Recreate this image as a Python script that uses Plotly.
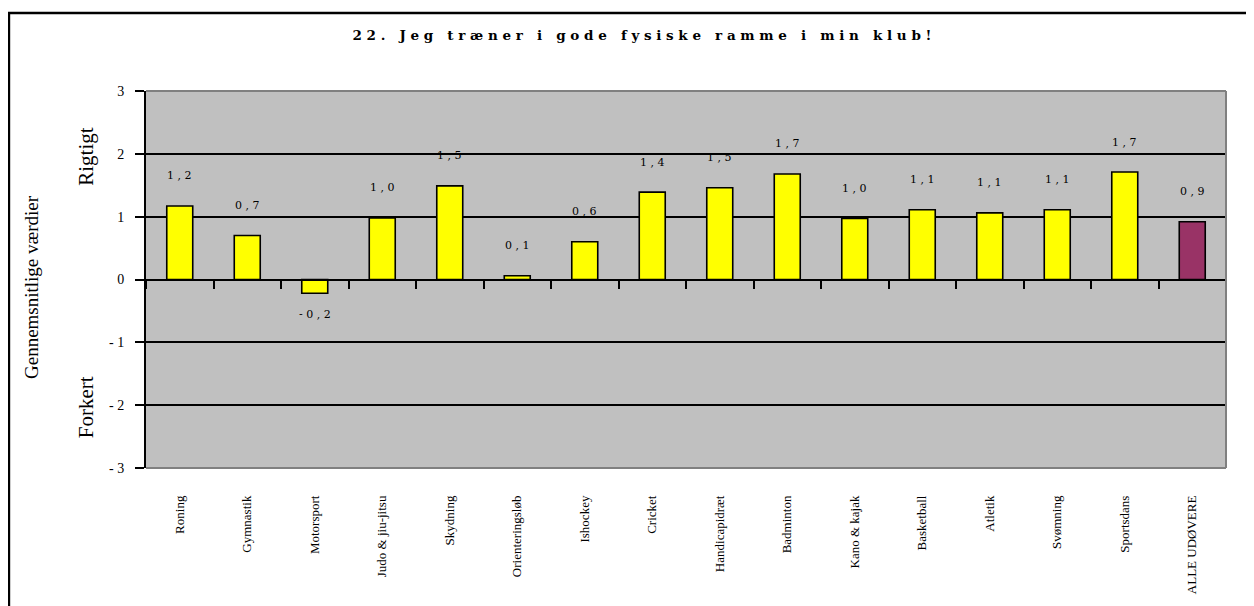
import plotly.graph_objects as go

# data
categories = ["Roning", "Gymnastik", "Motorsport", "Judo & jiu-jitsu", "Skydning",
              "Orienteringsløb", "Ishockey", "Cricket", "Handicapidræt", "Badminton",
              "Kano & kajak", "Basketball", "Atletik", "Svømning", "Sportsdans",
              "ALLE UDØVERE"]
values = [1.17, 0.70, -0.22, 0.98, 1.49, 0.06, 0.60, 1.39, 1.46, 1.68,
          0.97, 1.11, 1.06, 1.11, 1.71, 0.92]
y_ticks = [-3, -2, -1, 0, 1, 2, 3]
y_tick_labels = ["- 3", "- 2", "- 1", "0", "1", "2", "3"]
title = "22. Jeg træner i gode fysiske ramme i min klub!"

YELLOW = "#FFFF00"
PLUM = "#993366"
SERIF = "Liberation Serif, Times New Roman, serif"


def spaced(s):
    # the original renders text with wide letter spacing
    words = s.split(" ")
    return "\u00a0\u00a0\u00a0".join(" ".join(w) for w in words)


def label(v):
    return " ".join(f"{v:.1f}".replace(".", ","))


colors = [YELLOW] * (len(categories) - 1) + [PLUM]
x_range = [-0.5, len(categories) - 0.5]

fig = go.Figure()
fig.add_trace(go.Bar(
    x=categories, y=values,
    marker=dict(color=colors, line=dict(color="black", width=1.6)),
    hoverinfo="skip", showlegend=False,
))
# invisible trace on a second x axis so the category axis line/ticks sit at y=0
fig.add_trace(go.Scatter(
    x=categories, y=values, xaxis="x2", mode="markers",
    marker=dict(opacity=0), hoverinfo="skip", showlegend=False,
))

for c, v in zip(categories, values):
    fig.add_annotation(
        x=c, y=v, xref="x", yref="y", text=label(v), showarrow=False,
        yshift=30 if v >= 0 else -21,
        font=dict(family="DejaVu Serif, serif", size=11, color="black"),
    )

# axis side texts
side = dict(xref="paper", yref="paper", showarrow=False, textangle=-90,
            xanchor="center", yanchor="middle")
fig.add_annotation(x=-0.1065, y=0.48, text="Gennemsnitlige værdier",
                   font=dict(family=SERIF, size=19, color="black"), **side)
fig.add_annotation(x=-0.0556, y=0.828, text="Rigtigt",
                   font=dict(family=SERIF, size=21, color="black"), **side)
fig.add_annotation(x=-0.0556, y=0.161, text="Forkert",
                   font=dict(family=SERIF, size=21, color="black"), **side)

# plot-area edges (gray) and outer chart frame (black)
for x0, y0, x1, y1 in [(0, 1, 1, 1), (1, 0, 1, 1), (0, 0, 1, 0)]:
    fig.add_shape(type="line", xref="paper", yref="paper", x0=x0, y0=y0, x1=x1, y1=y1,
                  line=dict(color="#808080", width=2), layer="above")
fig.add_shape(type="rect", xref="paper", yref="paper",
              x0=-0.1269, y0=-0.45, x1=1.0204, y1=1.2069,
              line=dict(color="black", width=2.5))

fig.update_layout(
    width=1246, height=598,
    margin=dict(l=138, r=28, t=83, b=138),
    paper_bgcolor="white",
    plot_bgcolor="#C0C0C0",
    bargap=0.615,
    title=dict(text=spaced(title), x=0.5088, y=0.9548, xanchor="center", yanchor="middle",
               font=dict(family="DejaVu Serif, serif", size=13.5, color="black", weight="bold")),
    xaxis=dict(
        type="category", range=x_range, tickangle=-90, ticks="", showline=False,
        showgrid=False, tickfont=dict(family=SERIF, size=13, color="black"),
        ticklabelstandoff=24,
    ),
    xaxis2=dict(
        type="category", range=x_range, overlaying="x", anchor="free", position=0.5,
        side="bottom", showticklabels=False, ticks="outside", tickson="boundaries",
        ticklen=8, tickwidth=2, tickcolor="black", showline=True, linecolor="black",
        linewidth=2, showgrid=False,
    ),
    yaxis=dict(
        range=[-3, 3], tickvals=y_ticks, ticktext=y_tick_labels,
        ticks="outside", ticklen=9, tickwidth=2, tickcolor="black",
        showline=True, linecolor="black", linewidth=2,
        showgrid=True, gridcolor="black", gridwidth=1.5, zeroline=False,
        tickfont=dict(family=SERIF, size=14, color="black"),
        ticklabelstandoff=8,
    ),
)

fig.write_html("out.html")
